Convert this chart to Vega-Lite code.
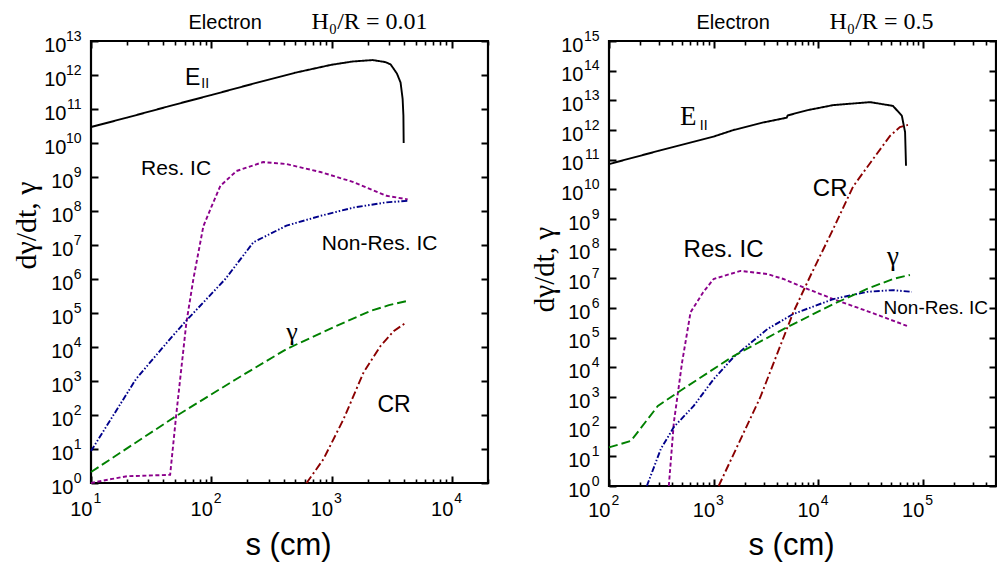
{
  "$schema": "https://vega.github.io/schema/vega-lite/v6.json",
  "background": "white",
  "padding": {"left": 9, "top": 7, "right": 0, "bottom": 0},
  "spacing": 37,
  "config": {
    "view": {"stroke": "black", "strokeWidth": 2.2},
    "axis": {"zindex": 1, "domain": false, "grid": false, "labelFont": "Liberation Sans", "labelColor": "black", "tickColor": "black", "tickWidth": 2, "labelFlush": false, "labelOverlap": false, "labelBound": false, "titleColor": "black", "titleFontWeight": "normal"},
    "text": {"color": "black"}
  },
  "datasets": {
    "L": [
      {"series": "E", "s": 10, "v": 2.95e10}, {"series": "E", "s": 20, "v": 5.6e10}, {"series": "E", "s": 50, "v": 1.35e11}, {"series": "E", "s": 100, "v": 2.57e11}, {"series": "E", "s": 200, "v": 5.0e11}, {"series": "E", "s": 500, "v": 1.17e12}, {"series": "E", "s": 1000, "v": 2.0e12}, {"series": "E", "s": 1500, "v": 2.5e12}, {"series": "E", "s": 2200, "v": 2.75e12}, {"series": "E", "s": 2800, "v": 2.4e12}, {"series": "E", "s": 3100, "v": 2.05e12}, {"series": "E", "s": 3500, "v": 1.1e12}, {"series": "E", "s": 3750, "v": 6.0e11}, {"series": "E", "s": 3900, "v": 2.0e11}, {"series": "E", "s": 3960, "v": 6.3e10}, {"series": "E", "s": 3980, "v": 1.0e10},
      {"series": "ResIC", "s": 10, "v": 1}, {"series": "ResIC", "s": 15, "v": 1.32}, {"series": "ResIC", "s": 20, "v": 1.58}, {"series": "ResIC", "s": 45.5, "v": 1.74}, {"series": "ResIC", "s": 51, "v": 93}, {"series": "ResIC", "s": 62, "v": 5.0e4}, {"series": "ResIC", "s": 71, "v": 1.0e6}, {"series": "ResIC", "s": 86, "v": 3.6e7}, {"series": "ResIC", "s": 100, "v": 1.3e8}, {"series": "ResIC", "s": 119, "v": 5.5e8}, {"series": "ResIC", "s": 162, "v": 1.5e9}, {"series": "ResIC", "s": 270, "v": 2.75e9}, {"series": "ResIC", "s": 422, "v": 2.4e9}, {"series": "ResIC", "s": 810, "v": 1.4e9}, {"series": "ResIC", "s": 1520, "v": 7.1e8}, {"series": "ResIC", "s": 2870, "v": 2.8e8}, {"series": "ResIC", "s": 4300, "v": 2.2e8},
      {"series": "NonResIC", "s": 10, "v": 8.7}, {"series": "NonResIC", "s": 23.7, "v": 1150}, {"series": "NonResIC", "s": 45.5, "v": 1.74e4}, {"series": "NonResIC", "s": 61.5, "v": 5.8e4}, {"series": "NonResIC", "s": 131, "v": 1.0e6}, {"series": "NonResIC", "s": 224, "v": 1.2e7}, {"series": "NonResIC", "s": 422, "v": 3.7e7}, {"series": "NonResIC", "s": 810, "v": 7.2e7}, {"series": "NonResIC", "s": 1520, "v": 1.26e8}, {"series": "NonResIC", "s": 2870, "v": 1.8e8}, {"series": "NonResIC", "s": 4400, "v": 2.0e8},
      {"series": "gamma", "s": 10, "v": 2.1}, {"series": "gamma", "s": 51, "v": 93}, {"series": "gamma", "s": 162, "v": 1150}, {"series": "gamma", "s": 422, "v": 8700}, {"series": "gamma", "s": 1100, "v": 4.2e4}, {"series": "gamma", "s": 2113, "v": 1.15e5}, {"series": "gamma", "s": 3000, "v": 1.7e5}, {"series": "gamma", "s": 4200, "v": 2.24e5},
      {"series": "CR", "s": 620, "v": 1}, {"series": "CR", "s": 856, "v": 5}, {"series": "CR", "s": 1260, "v": 76}, {"series": "CR", "s": 1850, "v": 1820}, {"series": "CR", "s": 2570, "v": 1.1e4}, {"series": "CR", "s": 3300, "v": 2.95e4}, {"series": "CR", "s": 4220, "v": 5.4e4}
    ],
    "R": [
      {"series": "E", "s": 100, "v": 7.1e10}, {"series": "E", "s": 300, "v": 2.0e11}, {"series": "E", "s": 1000, "v": 6.0e11}, {"series": "E", "s": 1550, "v": 1.0e12}, {"series": "E", "s": 3000, "v": 1.8e12}, {"series": "E", "s": 5000, "v": 2.6e12}, {"series": "E", "s": 5100, "v": 3.1e12}, {"series": "E", "s": 8000, "v": 4.7e12}, {"series": "E", "s": 13900, "v": 6.9e12}, {"series": "E", "s": 31300, "v": 8.7e12}, {"series": "E", "s": 51800, "v": 6.5e12}, {"series": "E", "s": 63000, "v": 3.0e12}, {"series": "E", "s": 67600, "v": 8.5e11}, {"series": "E", "s": 69000, "v": 6.2e10},
      {"series": "ResIC", "s": 373, "v": 1}, {"series": "ResIC", "s": 417, "v": 141}, {"series": "ResIC", "s": 500, "v": 1.5e4}, {"series": "ResIC", "s": 602, "v": 7.2e5}, {"series": "ResIC", "s": 795, "v": 3.4e6}, {"series": "ResIC", "s": 1000, "v": 9.5e6}, {"series": "ResIC", "s": 1807, "v": 1.78e7}, {"series": "ResIC", "s": 3265, "v": 1.4e7}, {"series": "ResIC", "s": 4650, "v": 9.5e6}, {"series": "ResIC", "s": 7850, "v": 4.4e6}, {"series": "ResIC", "s": 13900, "v": 2.0e6}, {"series": "ResIC", "s": 29300, "v": 7.9e5}, {"series": "ResIC", "s": 70500, "v": 2.5e5},
      {"series": "NonResIC", "s": 230, "v": 1}, {"series": "NonResIC", "s": 313, "v": 17.8}, {"series": "NonResIC", "s": 417, "v": 98}, {"series": "NonResIC", "s": 645, "v": 500}, {"series": "NonResIC", "s": 1000, "v": 4000}, {"series": "NonResIC", "s": 1550, "v": 2.2e4}, {"series": "NonResIC", "s": 3265, "v": 1.95e5}, {"series": "NonResIC", "s": 5780, "v": 6.3e5}, {"series": "NonResIC", "s": 13900, "v": 2.0e6}, {"series": "NonResIC", "s": 29300, "v": 3.5e6}, {"series": "NonResIC", "s": 51800, "v": 4.0e6}, {"series": "NonResIC", "s": 78500, "v": 3.5e6},
      {"series": "gamma", "s": 100, "v": 20}, {"series": "gamma", "s": 162, "v": 33}, {"series": "gamma", "s": 293, "v": 500}, {"series": "gamma", "s": 564, "v": 2350}, {"series": "gamma", "s": 1550, "v": 2.4e4}, {"series": "gamma", "s": 4650, "v": 1.95e5}, {"series": "gamma", "s": 13900, "v": 1.35e6}, {"series": "gamma", "s": 29300, "v": 4.4e6}, {"series": "gamma", "s": 51800, "v": 9.5e6}, {"series": "gamma", "s": 75200, "v": 1.3e7},
      {"series": "CR", "s": 1117, "v": 1}, {"series": "CR", "s": 2800, "v": 1000}, {"series": "CR", "s": 5780, "v": 7.2e5}, {"series": "CR", "s": 8400, "v": 1.2e7}, {"series": "CR", "s": 13900, "v": 4.6e8}, {"series": "CR", "s": 21600, "v": 1.26e10}, {"series": "CR", "s": 33400, "v": 1.05e11}, {"series": "CR", "s": 48500, "v": 6.3e11}, {"series": "CR", "s": 60300, "v": 1.26e12}, {"series": "CR", "s": 72000, "v": 1.48e12}
    ]
  },
  "hconcat": [
    {
      "width": 397,
      "height": 442,
      "data": {"name": "L"},
      "layer": [
        {
          "mark": {"type": "line", "strokeWidth": 1.9},
          "encoding": {
            "x": {"field": "s", "type": "quantitative", "scale": {"type": "log", "domain": [10, 20000], "nice": false}, "axis": {"orient": "bottom", "values": [10, 100, 1000, 10000], "ticks": true, "tickColor": "black", "tickWidth": 2, "tickSize": 7, "offset": -7, "labelExpr": "'10'", "labelAlign": "right", "labelOffset": 1, "labelBaseline": "top", "labelPadding": 16.5, "labelFontSize": 20, "title": null}},
            "y": {"field": "v", "type": "quantitative", "scale": {"type": "log", "domain": [1, 1e13], "nice": false}, "axis": {"orient": "left", "values": [1, 10, 100, 1000, 1e4, 1e5, 1e6, 1e7, 1e8, 1e9, 1e10, 1e11, 1e12, 1e13], "ticks": true, "tickColor": "black", "tickWidth": 2, "tickSize": 7, "offset": -7, "labelExpr": "'10'", "labelAlign": "right", "labelBaseline": "middle", "labelOffset": 4, "labelPadding": {"condition": {"test": "datum.value >= 1e10", "value": 25}, "value": 18}, "labelFontSize": 20, "title": null}},
            "color": {"field": "series", "type": "nominal", "scale": {"domain": ["E", "ResIC", "NonResIC", "gamma", "CR"], "range": ["#000000", "#8B008B", "#00008B", "#008000", "#8B0000"]}, "legend": null},
            "strokeDash": {"field": "series", "type": "nominal", "scale": {"domain": ["E", "ResIC", "NonResIC", "gamma", "CR"], "range": [[1, 0], [4, 2.5], [6, 2, 1.5, 2, 1.5, 2], [9, 4], [8, 3, 2, 3]]}, "legend": null}
          }
        },
        {
          "mark": {"type": "point", "opacity": 0},
          "encoding": {
            "x": {"field": "s", "type": "quantitative", "scale": {"type": "log", "domain": [10, 20000], "nice": false}, "axis": {"orient": "bottom", "values": [10, 100, 1000, 10000], "ticks": false, "labelExpr": "round(log(datum.value)/LN10) + ''", "labelAlign": "left", "labelOffset": 2, "labelBaseline": "top", "labelPadding": 8, "labelFontSize": 14, "title": "s (cm)", "titleFont": "Liberation Sans", "titleFontSize": 31, "titleX": 197, "titleY": 71, "titleAlign": "center", "titleBaseline": "alphabetic"}},
            "y": {"field": "v", "type": "quantitative", "scale": {"type": "log", "domain": [1, 1e13], "nice": false}, "axis": {"orient": "left", "values": [1, 10, 100, 1000, 1e4, 1e5, 1e6, 1e7, 1e8, 1e9, 1e10, 1e11, 1e12, 1e13], "ticks": false, "labelExpr": "round(log(datum.value)/LN10) + ''", "labelAlign": "right", "labelBaseline": "middle", "labelOffset": -5, "labelPadding": 10, "labelFontSize": 14, "title": "dγ/dt, γ", "titleFont": "Liberation Serif", "titleFontSize": 30, "titleAngle": 270, "titleX": -56, "titleY": 184, "titleAlign": "center", "titleBaseline": "alphabetic"}}
          }
        },
        {
          "mark": {"type": "point", "opacity": 0},
          "encoding": {
            "x": {"field": "s", "type": "quantitative", "scale": {"type": "log", "domain": [10, 20000], "nice": false}, "axis": {"orient": "bottom", "values": [20, 30, 40, 50, 60, 70, 80, 90, 200, 300, 400, 500, 600, 700, 800, 900, 2000, 3000, 4000, 5000, 6000, 7000, 8000, 9000, 20000], "ticks": true, "tickColor": "black", "tickWidth": 1.6, "tickSize": 4, "offset": -4, "labels": false, "title": null}},
            "y": {"field": "v", "type": "quantitative", "scale": {"type": "log", "domain": [1, 1e13], "nice": false}, "axis": {"orient": "right", "values": [1, 10, 100, 1000, 1e4, 1e5, 1e6, 1e7, 1e8, 1e9, 1e10, 1e11, 1e12, 1e13], "ticks": true, "tickColor": "black", "tickWidth": 2, "tickSize": 7, "offset": -7, "labels": false, "title": null}}
          }
        },
        {
          "mark": {"type": "point", "opacity": 0},
          "encoding": {
            "x": {"field": "s", "type": "quantitative", "scale": {"type": "log", "domain": [10, 20000], "nice": false}, "axis": {"orient": "top", "values": [10, 100, 1000, 10000], "ticks": true, "tickColor": "black", "tickWidth": 2, "tickSize": 7, "offset": -7, "labels": false, "title": null}},
            "y": {"field": "v", "type": "quantitative", "scale": {"type": "log", "domain": [1, 1e13], "nice": false}, "axis": null}
          }
        },
        {
          "mark": {"type": "point", "opacity": 0},
          "encoding": {
            "x": {"field": "s", "type": "quantitative", "scale": {"type": "log", "domain": [10, 20000], "nice": false}, "axis": {"orient": "top", "values": [20, 30, 40, 50, 60, 70, 80, 90, 200, 300, 400, 500, 600, 700, 800, 900, 2000, 3000, 4000, 5000, 6000, 7000, 8000, 9000, 20000], "ticks": true, "tickColor": "black", "tickWidth": 1.6, "tickSize": 4, "offset": -4, "labels": false, "title": null}},
            "y": {"field": "v", "type": "quantitative", "scale": {"type": "log", "domain": [1, 1e13], "nice": false}, "axis": null}
          }
        },
        {
          "mark": {"type": "point", "opacity": 0},
          "encoding": {
            "x": {"field": "s", "type": "quantitative", "scale": {"type": "log", "domain": [10, 20000], "nice": false}, "axis": {"orient": "top", "ticks": false, "labels": false, "title": "Electron", "titleFont": "Liberation Sans", "titleFontSize": 20, "titleX": 97, "titleY": -13, "titleAlign": "left", "titleBaseline": "alphabetic"}},
            "y": {"field": "v", "type": "quantitative", "scale": {"type": "log", "domain": [1, 1e13], "nice": false}, "axis": null}
          }
        },
        {
          "mark": {"type": "point", "opacity": 0},
          "encoding": {
            "x": {"field": "s", "type": "quantitative", "scale": {"type": "log", "domain": [10, 20000], "nice": false}, "axis": {"orient": "top", "ticks": false, "labels": false, "title": "H₀/R = 0.01", "titleFont": "Liberation Serif", "titleFontSize": 24, "titleX": 220, "titleY": -13, "titleAlign": "left", "titleBaseline": "alphabetic"}},
            "y": {"field": "v", "type": "quantitative", "scale": {"type": "log", "domain": [1, 1e13], "nice": false}, "axis": null}
          }
        },
        {
          "data": {"values": [{"s": 51, "v": 1.74e9, "label": "Res. IC"}, {"s": 2512, "v": 1.07e7, "label": "Non-Res. IC"}]},
          "mark": {"type": "text", "font": "Liberation Sans", "fontSize": 21, "align": "center", "baseline": "middle"},
          "encoding": {
            "x": {"field": "s", "type": "quantitative", "scale": {"type": "log", "domain": [10, 20000], "nice": false}, "axis": null},
            "y": {"field": "v", "type": "quantitative", "scale": {"type": "log", "domain": [1, 1e13], "nice": false}, "axis": null},
            "text": {"field": "label"}
          }
        },
        {
          "data": {"values": [{"s": 3310, "v": 195, "label": "CR"}, {"s": 70, "v": 7.9e11, "label": "E"}]},
          "mark": {"type": "text", "font": "Liberation Sans", "fontSize": 23, "align": "center", "baseline": "middle"},
          "encoding": {
            "x": {"field": "s", "type": "quantitative", "scale": {"type": "log", "domain": [10, 20000], "nice": false}, "axis": null},
            "y": {"field": "v", "type": "quantitative", "scale": {"type": "log", "domain": [1, 1e13], "nice": false}, "axis": null},
            "text": {"field": "label"}
          }
        },
        {
          "data": {"values": [{"s": 89, "v": 5.5e11, "label": "II"}]},
          "mark": {"type": "text", "font": "Liberation Sans", "fontSize": 14, "align": "center", "baseline": "middle"},
          "encoding": {
            "x": {"field": "s", "type": "quantitative", "scale": {"type": "log", "domain": [10, 20000], "nice": false}, "axis": null},
            "y": {"field": "v", "type": "quantitative", "scale": {"type": "log", "domain": [1, 1e13], "nice": false}, "axis": null},
            "text": {"field": "label"}
          }
        },
        {
          "data": {"values": [{"s": 469, "v": 2.75e4, "label": "γ"}]},
          "mark": {"type": "text", "font": "Liberation Serif", "fontSize": 26, "align": "center", "baseline": "middle"},
          "encoding": {
            "x": {"field": "s", "type": "quantitative", "scale": {"type": "log", "domain": [10, 20000], "nice": false}, "axis": null},
            "y": {"field": "v", "type": "quantitative", "scale": {"type": "log", "domain": [1, 1e13], "nice": false}, "axis": null},
            "text": {"field": "label"}
          }
        }
      ],
      "resolve": {"axis": {"x": "independent", "y": "independent"}}
    },
    {
      "width": 387,
      "height": 445,
      "data": {"name": "R"},
      "layer": [
        {
          "mark": {"type": "line", "strokeWidth": 1.9},
          "encoding": {
            "x": {"field": "s", "type": "quantitative", "scale": {"type": "log", "domain": [100, 500000], "nice": false}, "axis": {"orient": "bottom", "values": [100, 1000, 10000, 100000], "ticks": true, "tickColor": "black", "tickWidth": 2, "tickSize": 7, "offset": -7, "labelExpr": "'10'", "labelAlign": "right", "labelOffset": 1, "labelBaseline": "top", "labelPadding": 14.5, "labelFontSize": 20, "title": null}},
            "y": {"field": "v", "type": "quantitative", "scale": {"type": "log", "domain": [1, 1e15], "nice": false}, "axis": {"orient": "left", "values": [1, 10, 100, 1000, 1e4, 1e5, 1e6, 1e7, 1e8, 1e9, 1e10, 1e11, 1e12, 1e13, 1e14, 1e15], "ticks": true, "tickColor": "black", "tickWidth": 2, "tickSize": 7, "offset": -7, "labelExpr": "'10'", "labelAlign": "right", "labelBaseline": "middle", "labelOffset": 4, "labelPadding": {"condition": {"test": "datum.value >= 1e10", "value": 26}, "value": 19}, "labelFontSize": 20, "title": null}},
            "color": {"field": "series", "type": "nominal", "scale": {"domain": ["E", "ResIC", "NonResIC", "gamma", "CR"], "range": ["#000000", "#8B008B", "#00008B", "#008000", "#8B0000"]}, "legend": null},
            "strokeDash": {"field": "series", "type": "nominal", "scale": {"domain": ["E", "ResIC", "NonResIC", "gamma", "CR"], "range": [[1, 0], [4, 2.5], [6, 2, 1.5, 2, 1.5, 2], [9, 4], [8, 3, 2, 3]]}, "legend": null}
          }
        },
        {
          "mark": {"type": "point", "opacity": 0},
          "encoding": {
            "x": {"field": "s", "type": "quantitative", "scale": {"type": "log", "domain": [100, 500000], "nice": false}, "axis": {"orient": "bottom", "values": [100, 1000, 10000, 100000], "ticks": false, "labelExpr": "round(log(datum.value)/LN10) + ''", "labelAlign": "left", "labelOffset": 2, "labelBaseline": "top", "labelPadding": 7, "labelFontSize": 14, "title": "s (cm)", "titleFont": "Liberation Sans", "titleFontSize": 31, "titleX": 182, "titleY": 68, "titleAlign": "center", "titleBaseline": "alphabetic"}},
            "y": {"field": "v", "type": "quantitative", "scale": {"type": "log", "domain": [1, 1e15], "nice": false}, "axis": {"orient": "left", "values": [1, 10, 100, 1000, 1e4, 1e5, 1e6, 1e7, 1e8, 1e9, 1e10, 1e11, 1e12, 1e13, 1e14, 1e15], "ticks": false, "labelExpr": "round(log(datum.value)/LN10) + ''", "labelAlign": "right", "labelBaseline": "middle", "labelOffset": -5, "labelPadding": 10, "labelFontSize": 14, "title": "dγ/dt, γ", "titleFont": "Liberation Serif", "titleFontSize": 29, "titleAngle": 270, "titleX": -56, "titleY": 228, "titleAlign": "center", "titleBaseline": "alphabetic"}}
          }
        },
        {
          "mark": {"type": "point", "opacity": 0},
          "encoding": {
            "x": {"field": "s", "type": "quantitative", "scale": {"type": "log", "domain": [100, 500000], "nice": false}, "axis": {"orient": "bottom", "values": [200, 300, 400, 500, 600, 700, 800, 900, 2000, 3000, 4000, 5000, 6000, 7000, 8000, 9000, 20000, 30000, 40000, 50000, 60000, 70000, 80000, 90000, 200000, 300000, 400000, 500000], "ticks": true, "tickColor": "black", "tickWidth": 1.6, "tickSize": 4, "offset": -4, "labels": false, "title": null}},
            "y": {"field": "v", "type": "quantitative", "scale": {"type": "log", "domain": [1, 1e15], "nice": false}, "axis": {"orient": "right", "values": [1, 10, 100, 1000, 1e4, 1e5, 1e6, 1e7, 1e8, 1e9, 1e10, 1e11, 1e12, 1e13, 1e14, 1e15], "ticks": true, "tickColor": "black", "tickWidth": 2, "tickSize": 7, "offset": -7, "labels": false, "title": null}}
          }
        },
        {
          "mark": {"type": "point", "opacity": 0},
          "encoding": {
            "x": {"field": "s", "type": "quantitative", "scale": {"type": "log", "domain": [100, 500000], "nice": false}, "axis": {"orient": "top", "values": [100, 1000, 10000, 100000], "ticks": true, "tickColor": "black", "tickWidth": 2, "tickSize": 7, "offset": -7, "labels": false, "title": null}},
            "y": {"field": "v", "type": "quantitative", "scale": {"type": "log", "domain": [1, 1e15], "nice": false}, "axis": null}
          }
        },
        {
          "mark": {"type": "point", "opacity": 0},
          "encoding": {
            "x": {"field": "s", "type": "quantitative", "scale": {"type": "log", "domain": [100, 500000], "nice": false}, "axis": {"orient": "top", "values": [200, 300, 400, 500, 600, 700, 800, 900, 2000, 3000, 4000, 5000, 6000, 7000, 8000, 9000, 20000, 30000, 40000, 50000, 60000, 70000, 80000, 90000, 200000, 300000, 400000, 500000], "ticks": true, "tickColor": "black", "tickWidth": 1.6, "tickSize": 4, "offset": -4, "labels": false, "title": null}},
            "y": {"field": "v", "type": "quantitative", "scale": {"type": "log", "domain": [1, 1e15], "nice": false}, "axis": null}
          }
        },
        {
          "mark": {"type": "point", "opacity": 0},
          "encoding": {
            "x": {"field": "s", "type": "quantitative", "scale": {"type": "log", "domain": [100, 500000], "nice": false}, "axis": {"orient": "top", "ticks": false, "labels": false, "title": "Electron", "titleFont": "Liberation Sans", "titleFontSize": 20, "titleX": 87, "titleY": -13, "titleAlign": "left", "titleBaseline": "alphabetic"}},
            "y": {"field": "v", "type": "quantitative", "scale": {"type": "log", "domain": [1, 1e15], "nice": false}, "axis": null}
          }
        },
        {
          "mark": {"type": "point", "opacity": 0},
          "encoding": {
            "x": {"field": "s", "type": "quantitative", "scale": {"type": "log", "domain": [100, 500000], "nice": false}, "axis": {"orient": "top", "ticks": false, "labels": false, "title": "H₀/R = 0.5", "titleFont": "Liberation Serif", "titleFontSize": 24, "titleX": 220, "titleY": -13, "titleAlign": "left", "titleBaseline": "alphabetic"}},
            "y": {"field": "v", "type": "quantitative", "scale": {"type": "log", "domain": [1, 1e15], "nice": false}, "axis": null}
          }
        },
        {
          "data": {"values": [{"s": 1245, "v": 9.0e7, "label": "Res. IC"}, {"s": 13000, "v": 1.02e10, "label": "CR"}]},
          "mark": {"type": "text", "font": "Liberation Sans", "fontSize": 24, "align": "center", "baseline": "middle"},
          "encoding": {
            "x": {"field": "s", "type": "quantitative", "scale": {"type": "log", "domain": [100, 500000], "nice": false}, "axis": null},
            "y": {"field": "v", "type": "quantitative", "scale": {"type": "log", "domain": [1, 1e15], "nice": false}, "axis": null},
            "text": {"field": "label"}
          }
        },
        {
          "data": {"values": [{"s": 133000, "v": 1.0e6, "label": "Non-Res. IC"}]},
          "mark": {"type": "text", "font": "Liberation Sans", "fontSize": 19, "align": "center", "baseline": "middle"},
          "encoding": {
            "x": {"field": "s", "type": "quantitative", "scale": {"type": "log", "domain": [100, 500000], "nice": false}, "axis": null},
            "y": {"field": "v", "type": "quantitative", "scale": {"type": "log", "domain": [1, 1e15], "nice": false}, "axis": null},
            "text": {"field": "label"}
          }
        },
        {
          "data": {"values": [{"s": 572, "v": 2.75e12, "label": "E"}, {"s": 51800, "v": 5.2e7, "label": "γ"}]},
          "mark": {"type": "text", "font": "Liberation Serif", "fontSize": 27, "align": "center", "baseline": "middle"},
          "encoding": {
            "x": {"field": "s", "type": "quantitative", "scale": {"type": "log", "domain": [100, 500000], "nice": false}, "axis": null},
            "y": {"field": "v", "type": "quantitative", "scale": {"type": "log", "domain": [1, 1e15], "nice": false}, "axis": null},
            "text": {"field": "label"}
          }
        },
        {
          "data": {"values": [{"s": 803, "v": 1.35e12, "label": "II"}]},
          "mark": {"type": "text", "font": "Liberation Sans", "fontSize": 14, "align": "center", "baseline": "middle"},
          "encoding": {
            "x": {"field": "s", "type": "quantitative", "scale": {"type": "log", "domain": [100, 500000], "nice": false}, "axis": null},
            "y": {"field": "v", "type": "quantitative", "scale": {"type": "log", "domain": [1, 1e15], "nice": false}, "axis": null},
            "text": {"field": "label"}
          }
        }
      ],
      "resolve": {"axis": {"x": "independent", "y": "independent"}}
    }
  ]
}
